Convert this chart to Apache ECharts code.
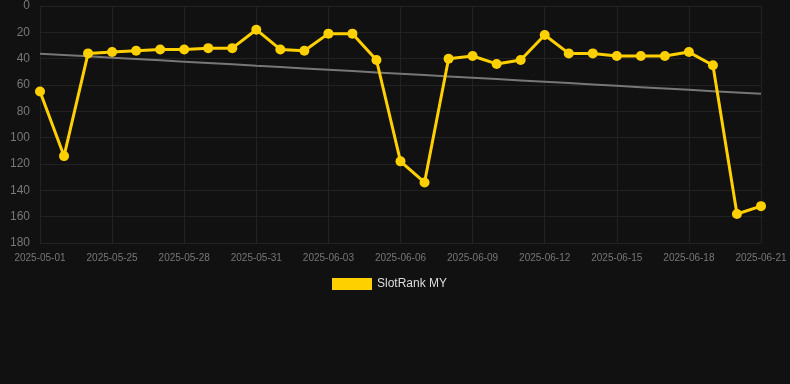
<!DOCTYPE html>
<html><head><meta charset="utf-8">
<script src="https://cdn.jsdelivr.net/npm/echarts@6/dist/echarts.min.js"></script>
<style>html,body{margin:0;padding:0;background:#111111;}#c{width:790px;height:384px;}</style>
</head><body><div id="c"></div>
<script>
const categories = ["2025-05-01","2025-05-23","2025-05-24","2025-05-25","2025-05-26","2025-05-27","2025-05-28","2025-05-29","2025-05-30","2025-05-31","2025-06-01","2025-06-02","2025-06-03","2025-06-04","2025-06-05","2025-06-06","2025-06-07","2025-06-08","2025-06-09","2025-06-10","2025-06-11","2025-06-12","2025-06-13","2025-06-14","2025-06-15","2025-06-16","2025-06-17","2025-06-18","2025-06-19","2025-06-20","2025-06-21"];
const rankValues = [65,114,36,35,34,33,33,32,32,18,33,34,21,21,41,118,134,40,38,44,41,22,36,36,38,38,38,35,45,158,152];
const seriesName = "SlotRank MY";

// linear regression trend derived from the data
const n = rankValues.length;
let sx=0, sy=0, sxy=0, sxx=0;
rankValues.forEach((v,i)=>{sx+=i;sy+=v;sxy+=i*v;sxx+=i*i;});
const slope = (n*sxy - sx*sy)/(n*sxx - sx*sx);
const intercept = (sy - slope*sx)/n;
const trend = rankValues.map((v,i)=>+(intercept + slope*i).toFixed(2));

const chart = echarts.init(document.getElementById('c'));
chart.setOption({
  backgroundColor: '#111111',
  animation: false,
  grid: {left: 40, right: 29, top: 6, bottom: 141},
  legend: {
    data: [seriesName], top: 273, left: 327,
    itemWidth: 40, itemHeight: 12, icon: 'rect',
    textStyle: {color: '#dddddd', fontSize: 12, fontFamily: 'Arial, Liberation Sans, sans-serif'}
  },
  xAxis: {
    type: 'category', data: categories, boundaryGap: false,
    axisLine: {show: false}, axisTick: {show: false},
    axisLabel: {interval: 2, color: '#777777', fontSize: 10, margin: 10, fontFamily: 'Arial, Liberation Sans, sans-serif'},
    splitLine: {show: true, interval: 2, lineStyle: {color: '#222222', width: 1}}
  },
  yAxis: {
    type: 'value', inverse: true, min: 0, max: 180, interval: 20,
    axisLine: {show: false}, axisTick: {show: false},
    axisLabel: {color: '#777777', fontSize: 12, margin: 10, fontFamily: 'Arial, Liberation Sans, sans-serif'},
    splitLine: {show: true, lineStyle: {color: '#222222', width: 1}}
  },
  series: [
    {
      name: 'trend', type: 'line', data: trend, symbol: 'none', silent: true,
      lineStyle: {color: '#777777', width: 2}, z: 1
    },
    {
      name: seriesName, type: 'line', data: rankValues,
      symbol: 'circle', symbolSize: 10,
      itemStyle: {color: '#FFD000'},
      lineStyle: {color: '#FFD000', width: 3}, z: 2
    }
  ]
});
</script></body></html>
